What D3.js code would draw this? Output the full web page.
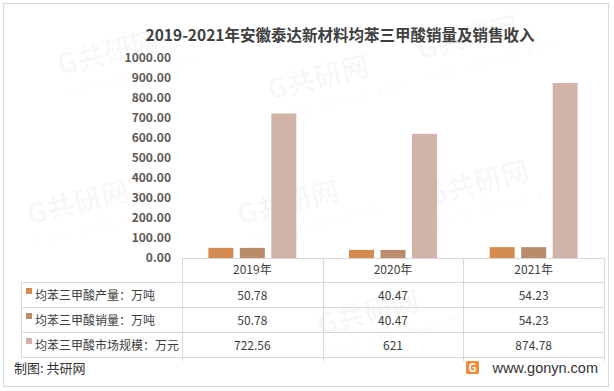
<!DOCTYPE html>
<html lang="zh">
<head>
<meta charset="UTF-8">
<title>均苯三甲酸销量及销售收入</title>
<script src="https://cdn.jsdelivr.net/npm/d3@7"></script>
<style>
  body { margin: 0; padding: 0; background: #fff; }
  svg { display: block; font-family: "Noto Sans CJK SC", "Noto Sans", sans-serif; }
</style>
</head>
<body>
<div id="chart"></div>
<script>
    // Data
    const years = ["2019年", "2020年", "2021年"];
    const seriesNames = ["均苯三甲酸产量：万吨", "均苯三甲酸销量：万吨", "均苯三甲酸市场规模：万元"];
    const output = [50.78, 40.47, 54.23];
    const sales = [50.78, 40.47, 54.23];
    const marketSize = [722.56, 621, 874.78];
    const tableLabels = [["50.78", "40.47", "54.23"], ["50.78", "40.47", "54.23"], ["722.56", "621", "874.78"]];
    const yTicks = [0, 100, 200, 300, 400, 500, 600, 700, 800, 900, 1000];
    const colors = ["#d48b4f", "#ba8c6c", "#d1b3a7"];

    const values = [output, sales, marketSize];

    const width = 614, height = 391;
    const plotLeft = 182, plotRight = 604;
    const baseY = 258, topY = 58;
    const rowLines = [282, 307, 332, 357];
    const tableLeft = 21;
    const gridColor = "#d9d9d9";

    const svg = d3.select("#chart").append("svg")
        .attr("width", width)
        .attr("height", height);

    svg.append("rect").attr("width", width).attr("height", height).attr("fill", "#fff");

    // Faint watermarks (kept inside the frame)
    const wm = svg.append("g").attr("fill", "#000").attr("fill-opacity", 0.035).attr("pointer-events", "none");
    [[60, 75], [270, 100], [420, 60], [30, 225], [240, 225], [430, 205], [320, 335]].forEach(([x, y]) => {
        const g = wm.append("g").attr("transform", `translate(${x},${y}) rotate(-14)`);
        g.append("text").attr("font-size", 28).attr("font-weight", "bold").text("G共研网");
        g.append("text").attr("y", 22).attr("font-size", 13).attr("letter-spacing", 3).text("www.gonyn.com");
    });

    // Outer border
    svg.append("rect")
        .attr("x", 3.5).attr("y", 3.5)
        .attr("width", 605).attr("height", 383)
        .attr("fill", "none")
        .attr("stroke", gridColor);

    // Title
    svg.append("text")
        .attr("x", 340).attr("y", 41)
        .attr("text-anchor", "middle")
        .attr("font-size", 15.5)
        .attr("font-weight", "bold")
        .attr("fill", "#404040")
        .text("2019-2021年安徽泰达新材料均苯三甲酸销量及销售收入");

    // Scales
    const x = d3.scaleBand().domain(years).range([plotLeft, plotRight]);
    const xInner = d3.scaleBand().domain(d3.range(3)).range([0, x.bandwidth()])
        .paddingInner(0.206).paddingOuter(0.836);
    const y = d3.scaleLinear().domain([0, 1000]).range([baseY, topY]);

    // Y axis labels
    const yAxis = svg.append("g")
        .attr("transform", "translate(175,0)")
        .call(d3.axisLeft(y).tickValues(yTicks).tickFormat(d3.format(".2f")).tickSize(0).tickPadding(4));
    yAxis.select(".domain").remove();
    yAxis.selectAll("text")
        .attr("font-size", 12)
        .attr("font-weight", "bold")
        .attr("fill", "#595959")
        .attr("font-family", "'Noto Sans CJK SC', sans-serif");

    // Bars
    values.forEach((series, si) => {
        svg.append("g").selectAll("rect")
            .data(series)
            .join("rect")
            .attr("x", (d, i) => x(years[i]) + xInner(si))
            .attr("width", xInner.bandwidth())
            .attr("y", d => y(d))
            .attr("height", d => y(0) - y(d))
            .attr("fill", colors[si]);
    });

    // Data table
    const table = svg.append("g").attr("stroke", gridColor).attr("stroke-width", 1).attr("shape-rendering", "crispEdges");
    table.append("line").attr("x1", plotLeft).attr("x2", plotRight).attr("y1", baseY + 0.5).attr("y2", baseY + 0.5);
    rowLines.forEach(ly => {
        table.append("line").attr("x1", tableLeft).attr("x2", plotRight).attr("y1", ly + 0.5).attr("y2", ly + 0.5);
    });
    table.append("line").attr("x1", tableLeft + 0.5).attr("x2", tableLeft + 0.5).attr("y1", rowLines[0]).attr("y2", rowLines[3]);
    [plotLeft, ...years.map(yr => x(yr) + x.bandwidth())].forEach(lx => {
        table.append("line").attr("x1", lx + 0.5).attr("x2", lx + 0.5).attr("y1", baseY).attr("y2", rowLines[3] + 4);
    });

    // Header
    svg.append("g").selectAll("text")
        .data(years)
        .join("text")
        .attr("x", d => x(d) + x.bandwidth() / 2)
        .attr("y", 274)
        .attr("text-anchor", "middle")
        .attr("font-size", 12)
        .attr("fill", "#404040")
        .text(d => d);

    // Rows
    seriesNames.forEach((name, si) => {
        const cy = (rowLines[si] + rowLines[si + 1]) / 2;
        svg.append("rect")
            .attr("x", 26).attr("y", cy - 6.5)
            .attr("width", 6).attr("height", 6)
            .attr("fill", colors[si]);
        svg.append("text")
            .attr("x", 35).attr("y", cy + 5)
            .attr("font-size", 12)
            .attr("fill", "#404040")
            .text(name);
        svg.append("g").selectAll("text")
            .data(tableLabels[si])
            .join("text")
            .attr("x", (d, i) => x(years[i]) + x.bandwidth() / 2)
            .attr("y", cy + 5)
            .attr("text-anchor", "middle")
            .attr("font-size", 12)
            .attr("fill", "#404040")
            .text(d => d);
    });

    // Footer
    svg.append("text")
        .attr("x", 14).attr("y", 373)
        .attr("font-size", 13)
        .attr("fill", "#333")
        .text("制图: 共研网");

    const logo = svg.append("g").attr("transform", "translate(466,361)");
    logo.append("rect").attr("width", 13).attr("height", 13).attr("rx", 1.5).attr("fill", "#f08a3c");
    logo.append("text").attr("x", 6.5).attr("y", 11).attr("text-anchor", "middle")
        .attr("font-size", 11).attr("font-weight", "bold").attr("fill", "#fff").text("G");

    svg.append("text")
        .attr("x", 598).attr("y", 373)
        .attr("text-anchor", "end")
        .attr("font-size", 14.5)
        .attr("fill", "#333")
        .attr("font-family", "'Liberation Sans', Arial, sans-serif")
        .text("www.gonyn.com");
</script>
</body>
</html>
